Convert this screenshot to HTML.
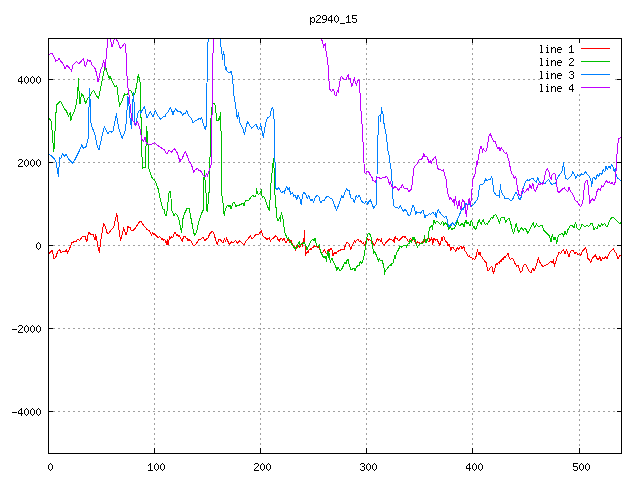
<!DOCTYPE html>
<html><head><meta charset="utf-8"><title>p2940_15</title>
<style>
html,body{margin:0;padding:0;background:#fff;}
body{width:640px;height:480px;overflow:hidden;position:relative;font-family:"Liberation Sans",sans-serif;}
svg{position:absolute;left:0;top:0;}
</style></head><body>
<svg width="640" height="480" viewBox="0 0 640 480">
<rect width="640" height="480" fill="#fff"/>
<g stroke="#a0a0a0" stroke-width="1" stroke-dasharray="2 3" shape-rendering="crispEdges" fill="none"><line x1="48" y1="411.5" x2="621" y2="411.5"/><line x1="48" y1="328.5" x2="621" y2="328.5"/><line x1="48" y1="245.5" x2="621" y2="245.5"/><line x1="48" y1="162.5" x2="621" y2="162.5"/><line x1="48" y1="79.5" x2="540" y2="79.5"/><line x1="615" y1="79.5" x2="621" y2="79.5"/><line x1="154.5" y1="38" x2="154.5" y2="453"/><line x1="260.5" y1="38" x2="260.5" y2="453"/><line x1="366.5" y1="38" x2="366.5" y2="453"/><line x1="472.5" y1="38" x2="472.5" y2="453"/><line x1="579.5" y1="94" x2="579.5" y2="453"/></g>
<clipPath id="c"><rect x="49" y="39" width="572" height="414"/></clipPath>
<g clip-path="url(#c)" fill="none" stroke-width="1" shape-rendering="crispEdges" stroke-linejoin="round">
<polyline stroke="#ff0000" points="48.7,254.0 52.4,250.2 53.8,258.7 55.6,257.8 57.5,252.1 59.4,249.3 61.2,253.1 62.8,251.2 65.0,252.1 66.5,249.3 67.4,253.1 69.3,249.3 71.8,242.8 74.0,241.8 76.2,241.8 77.8,239.0 79.6,240.5 82.4,236.8 84.9,236.2 86.8,241.8 88.6,232.4 90.9,234.3 93.1,234.3 95.0,239.9 95.8,234.3 97.4,243.7 99.3,252.5 101.2,237.1 103.6,224.0 105.5,226.8 106.8,232.4 108.7,233.8 110.6,230.6 113.0,227.8 114.3,225.9 115.2,220.2 116.8,213.7 118.1,222.1 119.4,233.4 120.5,240.5 122.4,233.4 123.7,227.8 125.0,232.4 126.1,235.2 127.4,230.6 128.0,226.0 129.0,227.9 130.0,227.2 131.0,229.8 132.0,230.4 133.0,231.0 134.2,229.1 135.5,227.9 136.8,226.0 138.0,224.1 139.2,222.2 140.5,221.2 141.5,221.6 142.5,224.1 143.5,224.8 144.5,226.6 145.5,227.2 146.5,229.1 147.5,229.1 148.5,230.4 149.5,231.0 150.5,233.2 151.5,235.4 152.5,232.2 153.5,234.1 154.5,233.5 155.5,235.4 156.5,236.0 157.5,237.2 158.5,237.9 159.5,236.6 160.5,237.2 161.5,239.1 162.5,238.5 163.5,240.4 164.5,239.1 165.5,241.6 166.5,244.8 167.2,239.8 168.0,244.8 168.8,241.0 169.5,236.6 170.5,238.5 171.5,237.0 172.5,237.9 173.5,235.4 174.5,232.9 175.5,232.5 176.5,235.4 177.5,234.8 178.5,236.0 179.5,235.4 180.5,238.5 181.5,239.8 182.2,241.6 183.0,238.5 184.0,236.6 185.0,236.0 186.0,237.9 187.0,238.5 188.0,240.4 189.0,239.1 190.0,240.4 191.0,241.0 192.0,242.9 193.0,244.8 194.2,245.8 195.5,244.8 196.8,242.9 198.0,241.0 199.2,239.1 200.5,239.8 201.8,238.5 202.8,237.2 203.8,238.2 204.8,241.0 205.8,239.8 206.8,238.5 208.0,237.9 209.9,233.4 212.4,231.1 214.2,234.3 215.6,239.9 217.1,244.6 218.8,239.0 220.6,239.9 223.1,243.1 224.4,238.1 225.5,241.8 226.6,237.5 228.1,241.8 229.2,244.2 231.5,241.8 233.8,242.4 235.6,240.5 237.5,243.1 239.4,240.9 241.8,242.4 243.7,245.0 245.6,241.8 248.0,239.0 250.2,235.6 252.1,239.0 254.0,236.8 256.2,234.3 258.7,234.9 261.1,230.6 263.0,236.2 265.2,237.5 267.1,239.9 268.0,238.5 269.2,237.9 270.5,241.0 271.8,239.1 273.2,238.5 274.5,237.0 275.8,235.8 277.0,237.2 278.2,239.8 279.2,241.6 280.2,239.1 281.5,238.5 282.8,240.4 284.0,238.5 285.0,241.0 286.0,242.9 287.0,241.0 288.0,239.1 289.0,241.0 290.0,242.9 291.0,240.4 292.0,242.9 293.0,244.8 294.0,246.0 295.0,247.9 295.8,250.4 296.5,246.6 297.5,244.1 298.5,246.0 299.5,247.2 300.5,246.0 301.5,244.5 302.5,246.0 303.5,238.5 304.0,241.0 304.5,230.4 305.0,243.5 305.5,255.4 306.2,252.9 307.2,251.6 308.2,252.9 309.2,249.8 310.2,248.8 311.2,249.5 312.2,247.9 313.2,247.2 314.2,245.4 315.2,246.6 316.2,246.0 317.2,247.2 318.2,246.6 319.2,248.5 320.2,250.4 321.2,252.2 322.2,252.9 323.2,251.6 324.2,249.8 325.2,251.6 326.2,253.5 327.2,252.9 328.2,249.8 329.2,251.6 330.2,249.1 331.2,248.2 332.2,250.4 333.0,256.0 334.0,253.5 335.0,252.5 336.0,254.1 337.0,252.2 338.0,251.6 339.0,249.8 340.0,250.4 341.0,249.5 342.0,250.0 343.0,248.8 344.0,249.5 345.0,246.6 346.0,244.1 347.0,242.2 348.0,242.9 349.0,244.1 349.8,246.0 350.5,249.8 351.5,247.2 352.5,245.4 353.5,242.9 354.5,241.0 355.5,242.2 356.5,240.4 357.5,239.1 358.5,239.8 359.5,241.6 360.5,240.8 361.5,242.2 362.5,243.5 363.5,242.9 364.5,245.4 365.5,242.2 366.5,240.4 367.5,238.5 368.5,240.4 369.5,239.1 370.5,240.4 371.5,239.1 372.5,242.9 373.5,244.1 374.5,245.4 375.5,242.9 376.5,240.4 377.5,238.5 378.5,240.4 379.5,239.5 380.5,241.0 381.5,238.5 382.2,242.9 383.2,244.1 384.2,245.4 385.2,243.5 386.2,242.2 387.2,241.6 388.2,240.4 389.2,238.5 390.2,239.8 391.2,239.1 392.2,240.4 393.2,239.8 394.2,242.2 395.2,236.0 396.2,239.1 397.2,238.5 398.2,240.4 399.2,241.0 400.2,239.1 401.2,238.5 402.2,237.2 403.2,236.2 404.2,237.2 405.2,236.6 406.2,238.2 407.2,239.1 408.2,241.0 409.2,241.6 410.2,237.9 411.2,239.1 412.2,240.4 413.2,238.5 414.2,239.8 415.2,242.9 416.2,244.1 417.2,241.0 418.2,242.9 419.2,242.2 420.2,244.1 421.2,242.9 422.2,241.6 423.2,242.9 424.2,239.8 425.2,242.2 426.2,240.4 427.2,238.5 428.0,241.0 429.0,242.2 429.8,238.5 430.8,240.4 431.8,237.9 432.8,244.1 433.8,238.5 434.8,239.1 435.8,240.4 436.8,239.1 437.8,241.0 438.8,242.9 439.8,245.4 440.8,242.2 441.8,237.9 442.5,241.0 443.2,236.0 444.2,237.2 445.2,240.4 446.2,241.6 447.2,242.9 448.0,245.4 449.0,244.1 450.0,247.2 450.8,250.4 451.8,247.9 452.8,247.2 453.8,248.8 454.8,249.8 455.8,251.2 456.8,248.8 457.8,247.9 458.8,249.8 459.8,247.2 460.8,246.0 461.8,248.8 462.8,247.9 463.8,246.0 464.5,250.4 465.5,251.6 466.5,252.9 467.5,254.8 468.5,256.6 469.5,256.0 470.5,257.9 471.5,257.2 472.5,259.1 473.5,258.5 474.5,259.5 475.5,257.9 476.2,256.0 477.0,252.2 477.5,249.1 478.2,253.5 479.0,254.8 479.8,252.2 480.5,253.5 481.2,256.6 482.2,257.2 483.2,259.1 484.2,260.4 485.2,261.6 486.2,262.9 487.0,267.2 487.8,271.0 488.8,270.4 489.8,268.5 490.8,267.2 491.8,266.0 492.5,268.5 493.2,273.5 494.2,271.0 495.2,267.2 496.2,263.5 497.2,264.8 498.2,262.2 499.2,263.5 500.2,260.4 501.2,261.6 502.2,258.5 503.2,259.8 504.2,256.6 505.2,257.9 506.2,256.0 507.2,254.8 508.0,253.5 509.0,256.8 510.5,259.6 512.0,257.8 513.5,259.6 515.0,263.4 516.5,266.2 518.0,265.2 519.5,269.0 520.6,272.4 522.1,270.9 523.2,266.2 524.0,265.2 525.6,264.3 527.5,268.1 529.4,271.8 531.2,272.8 532.8,268.1 534.2,270.9 535.8,267.1 537.2,262.4 538.4,257.8 539.9,262.4 541.4,264.3 542.9,267.1 544.8,265.6 546.6,264.9 548.5,263.4 550.4,261.5 552.2,262.4 553.4,260.0 554.5,266.2 556.0,260.6 557.5,255.9 559.0,252.5 560.5,253.6 562.0,251.2 563.5,249.9 565.0,253.6 566.5,249.3 568.0,254.0 569.1,256.8 570.6,251.2 572.1,249.9 573.6,251.2 575.1,253.6 576.6,252.1 578.1,254.9 579.6,253.6 580.8,255.9 582.2,251.2 583.8,249.9 585.6,248.0 586.8,252.1 587.9,258.7 589.4,259.6 590.9,262.4 592.4,257.8 593.9,256.8 595.4,254.9 596.9,258.7 598.4,259.6 599.9,256.8 601.0,260.6 602.5,257.8 604.0,258.7 605.5,256.8 607.0,258.7 608.5,254.9 610.0,252.1 611.9,250.2 613.4,248.4 614.9,252.1 616.4,253.6 617.9,258.7 619.4,255.9 622.2,254.9"/>
<polyline stroke="#00c000" points="48.7,118.4 50.0,119.3 51.5,122.1 52.4,135.2 53.8,152.1 54.9,135.2 55.2,124.0 55.6,116.5 56.8,104.9 60.5,101.1 62.8,105.2 64.6,109.0 66.5,110.9 68.4,116.5 70.2,112.8 70.8,120.6 72.1,115.6 74.9,109.9 76.8,101.5 77.8,90.2 78.5,78.6 79.2,95.9 80.0,104.3 81.5,94.0 83.4,95.9 85.6,103.4 88.1,97.8 89.9,95.9 91.8,92.1 93.7,90.2 96.1,94.9 98.4,98.7 100.2,90.2 102.1,80.9 104.0,71.5 104.9,62.1 106.2,69.6 107.8,74.3 109.2,79.0 110.0,76.2 112.4,81.8 114.9,86.5 116.8,85.6 118.1,95.9 119.6,106.2 121.8,101.5 124.6,94.0 127.4,94.9 128.8,90.2 131.2,91.2 133.1,95.9 134.9,94.0 136.8,84.6 138.3,74.3 140.0,81.8 140.8,101.5 141.1,124.0 141.5,142.8 142.4,168.1 145.2,167.5 146.0,146.5 146.8,126.8 147.5,139.0 148.2,146.5 148.6,168.1 150.9,174.6 152.4,178.4 154.6,180.2 156.5,184.0 157.0,186.0 158.0,188.5 159.0,192.9 160.0,197.9 161.0,202.2 162.0,206.0 163.0,209.1 164.2,209.8 165.2,214.8 166.2,215.4 167.0,211.0 167.8,204.8 168.5,194.8 169.5,191.2 170.5,191.6 171.2,201.0 171.8,211.0 173.0,212.9 174.2,216.0 175.2,213.5 176.5,214.1 177.5,216.6 178.5,217.2 179.5,222.2 180.5,227.2 181.5,232.2 182.2,226.0 183.0,218.5 184.0,214.8 184.8,212.9 185.8,211.0 186.8,208.5 188.0,208.2 189.2,208.8 190.0,212.9 191.0,218.5 192.0,223.5 193.0,229.1 194.0,233.5 194.8,235.4 195.8,234.1 196.8,231.0 197.8,226.0 198.8,222.2 199.8,218.5 200.8,215.4 201.8,212.9 202.8,211.0 203.5,209.8 203.6,191.2 204.2,170.0 204.9,177.5 205.5,191.2 206.2,193.8 206.9,211.0 207.9,211.2 208.2,193.1 209.1,192.5 209.6,171.2 210.2,150.0 210.5,128.0 211.2,114.9 211.8,108.0 213.0,103.2 214.5,103.6 215.5,106.8 216.1,114.2 217.0,120.5 218.6,120.5 219.2,116.8 220.2,120.5 220.5,112.4 220.8,130.5 221.5,131.8 221.6,148.0 221.6,150.0 221.9,172.5 222.0,196.0 222.8,201.0 223.5,208.5 224.2,215.4 225.0,211.0 226.0,207.9 227.0,206.0 228.0,205.0 229.0,206.6 230.0,205.4 231.0,209.1 232.0,206.0 233.0,202.9 234.0,202.2 235.0,204.1 236.0,207.2 237.0,204.8 238.0,205.4 239.0,206.2 240.0,204.1 241.0,204.8 242.0,202.9 243.0,203.5 244.0,206.0 245.0,202.2 246.0,199.8 247.0,201.0 248.0,199.8 249.0,200.4 250.0,198.5 251.0,197.2 252.0,196.0 253.0,194.8 254.0,196.6 255.0,197.2 256.0,194.8 256.2,188.7 258.1,194.3 260.0,193.4 261.5,189.6 261.8,195.4 262.8,197.2 263.8,196.6 264.8,198.5 265.8,201.0 266.8,204.8 267.8,207.2 268.8,209.1 269.2,210.4 269.8,203.5 270.2,196.0 270.9,184.0 272.0,172.8 273.5,158.7 274.2,170.9 275.0,195.2 275.5,196.0 275.8,203.5 276.2,211.0 276.8,217.2 277.5,219.1 278.2,221.0 279.0,219.1 279.8,217.9 280.5,221.6 281.2,212.2 282.0,214.8 282.8,217.9 283.5,222.9 284.2,228.5 285.0,232.9 286.0,235.4 287.0,237.9 288.0,239.1 288.8,237.9 289.5,241.0 290.5,242.2 291.5,243.5 292.5,245.4 293.5,246.6 294.5,248.5 295.5,249.8 296.2,246.0 297.2,247.2 298.2,243.5 299.2,241.6 300.2,245.4 301.2,243.5 302.2,242.9 303.2,244.1 304.2,242.2 305.2,244.8 306.2,246.0 307.0,250.4 308.0,247.2 309.0,244.8 310.0,242.9 311.0,241.0 312.0,239.8 313.0,239.5 314.0,241.0 315.0,238.5 315.8,241.6 316.5,245.4 317.5,246.6 318.5,245.4 319.2,244.8 320.0,249.1 320.8,252.2 321.8,254.1 322.8,256.0 323.8,257.9 324.8,256.0 325.8,258.5 326.5,261.2 327.2,253.5 328.0,251.0 328.8,257.2 329.5,253.5 330.2,262.9 331.2,259.1 332.2,258.5 333.2,261.6 334.2,263.5 335.2,265.4 336.2,267.9 337.0,270.4 338.0,267.2 339.0,269.1 340.0,271.0 341.0,269.8 342.0,268.5 343.0,266.6 344.0,264.1 345.0,262.2 346.0,264.1 347.0,260.4 348.0,259.1 348.8,263.5 349.8,266.6 350.8,269.1 351.8,269.8 353.0,267.9 354.2,268.5 355.2,271.0 356.2,267.2 357.2,266.6 358.2,265.4 359.2,266.0 360.2,261.0 361.2,263.5 362.2,262.2 363.2,259.1 364.2,255.4 365.0,250.4 365.8,246.0 366.5,240.4 367.2,236.0 368.0,234.1 369.0,233.5 370.0,234.8 370.8,234.8 371.2,239.1 372.0,243.5 372.8,247.2 373.5,253.5 374.5,251.6 375.5,252.9 376.5,256.0 377.5,258.5 378.5,261.6 379.2,258.5 380.2,260.4 381.2,261.0 382.0,259.8 382.8,262.9 383.5,264.8 384.2,269.8 384.8,274.1 385.2,271.0 386.2,269.8 387.2,268.5 388.2,267.2 389.2,266.0 390.2,264.8 391.2,265.4 392.0,263.5 393.0,262.9 393.8,259.8 394.5,256.0 395.2,259.1 396.0,254.8 396.8,252.2 397.8,251.0 398.8,249.1 399.8,246.6 400.8,246.0 401.8,247.2 402.8,246.0 403.8,245.4 404.8,245.8 405.8,245.4 406.5,247.2 407.2,244.8 408.2,243.5 409.2,244.1 410.0,239.8 410.8,241.6 411.5,242.9 412.2,238.5 413.0,237.5 413.8,239.8 414.8,237.9 415.5,241.0 416.5,244.1 417.5,247.2 418.2,245.4 419.2,244.8 420.2,243.5 421.2,242.9 422.2,244.1 423.2,241.0 424.0,239.1 424.5,235.4 425.2,241.0 426.0,242.9 426.8,239.1 427.5,240.4 428.0,239.1 428.8,235.0 429.2,228.1 430.2,227.2 431.2,226.2 432.2,225.6 432.8,230.0 433.2,221.2 434.5,220.6 435.2,223.8 436.2,221.9 437.5,221.2 438.5,222.5 439.8,223.8 440.8,224.8 441.8,222.5 442.8,221.2 443.8,225.2 444.8,223.8 445.8,222.5 446.8,224.0 447.8,226.2 448.8,230.0 449.8,226.5 450.8,227.5 451.8,229.4 453.0,228.8 454.2,229.0 455.2,226.9 456.2,225.0 457.0,220.6 458.0,222.5 459.0,225.0 460.0,226.2 461.0,224.4 462.0,223.5 463.0,224.4 464.0,226.9 465.0,222.5 466.0,220.0 467.0,223.8 468.0,222.5 469.0,223.8 470.0,225.6 471.0,221.2 471.8,220.6 472.5,225.0 473.5,227.5 474.5,226.9 475.5,230.0 476.5,227.5 477.5,223.8 478.5,221.2 479.5,220.0 480.5,223.1 481.5,224.4 482.5,220.6 483.5,220.0 484.5,223.1 485.5,224.4 486.5,223.1 487.5,224.0 488.5,222.5 489.5,220.6 490.5,218.8 491.5,217.2 492.5,218.8 493.5,216.2 494.5,215.2 495.5,214.4 496.5,216.2 497.5,217.5 498.5,220.6 499.5,223.1 500.5,218.8 501.5,217.5 502.8,217.8 504.0,216.9 505.6,222.1 507.5,219.3 509.4,218.4 510.9,224.0 512.4,230.6 513.7,233.8 515.0,227.8 516.1,223.6 517.6,229.6 518.8,232.4 520.2,229.6 521.8,227.8 523.2,230.6 524.0,228.7 525.6,228.7 527.9,233.4 529.8,229.6 531.6,225.9 533.1,222.5 534.6,227.8 536.5,224.0 538.4,226.8 540.2,225.9 542.1,225.5 544.0,230.6 545.9,232.4 547.8,234.3 549.6,236.2 551.1,241.8 552.2,234.3 553.8,239.9 555.2,237.1 556.8,243.1 558.4,235.2 560.3,234.3 562.2,233.0 563.5,236.2 565.0,231.5 566.5,234.3 568.0,229.6 569.5,226.8 571.0,224.9 572.5,225.9 574.0,227.8 575.5,222.5 577.0,227.8 578.9,229.6 580.4,228.7 581.9,224.0 583.8,225.9 585.6,226.8 587.1,224.9 588.6,226.8 590.5,224.0 592.4,223.1 593.9,229.6 595.4,227.8 596.9,228.7 598.4,224.9 599.9,226.8 601.4,224.0 602.9,225.5 604.4,223.1 605.9,225.9 607.4,226.8 608.9,222.1 610.4,219.3 611.9,217.4 613.8,218.0 615.6,219.3 617.5,221.8 619.4,223.6 622.2,222.1"/>
<polyline stroke="#0080ff" points="48.7,154.0 51.5,155.9 54.3,158.7 56.2,162.4 57.5,170.9 58.6,176.5 59.4,157.8 60.9,158.7 62.8,153.1 64.2,156.8 66.1,154.0 68.4,158.7 70.2,160.6 72.5,163.4 74.9,159.6 77.8,154.0 80.0,149.3 81.9,144.6 83.4,148.4 86.2,146.5 88.1,139.0 88.6,127.8 89.4,88.4 90.5,107.1 90.9,122.1 91.2,124.9 93.1,129.6 95.0,135.2 97.4,146.5 98.9,150.2 100.2,144.6 102.1,135.2 104.4,126.8 106.8,131.5 108.0,134.0 109.9,130.9 111.5,132.1 113.0,131.5 114.2,125.2 115.5,118.4 116.5,114.0 117.4,121.5 118.6,127.1 119.9,132.1 121.1,135.2 122.4,138.4 123.6,134.6 124.9,132.1 125.8,126.5 126.8,114.0 127.4,102.8 128.0,96.5 128.6,100.2 129.2,109.0 130.2,120.2 131.5,128.4 132.0,119.0 132.8,102.8 133.4,92.1 134.0,101.5 134.5,106.5 134.8,120.2 135.2,125.2 136.1,122.8 137.0,117.8 138.0,112.8 139.0,110.9 139.9,110.2 140.8,114.0 141.8,110.9 143.0,109.0 144.5,106.5 145.5,112.1 146.8,117.8 148.0,116.2 149.2,113.4 150.5,111.8 151.8,114.6 153.2,117.1 154.5,112.1 155.5,110.5 156.8,114.0 158.0,116.2 159.2,117.1 160.5,119.2 162.0,117.8 163.6,116.2 164.9,116.8 166.1,114.0 167.8,112.1 169.2,109.6 170.5,107.5 171.8,110.9 173.0,114.6 174.2,110.9 175.8,108.8 177.4,110.9 179.0,112.1 180.5,111.8 181.8,113.4 182.8,115.9 184.0,113.0 185.2,113.8 186.8,110.9 188.0,114.2 189.2,116.1 190.8,117.4 192.0,119.9 193.2,123.0 194.5,121.1 196.1,120.5 197.8,119.5 199.5,118.2 200.5,119.2 201.5,118.0 202.4,119.9 203.2,123.6 204.2,126.8 205.2,129.2 206.1,126.1 206.6,123.0 206.8,84.2 207.0,84.1 207.4,42.8 208.0,41.8 208.6,38.0 208.9,33.0 219.9,33.0 220.2,38.0 220.8,45.5 221.5,49.2 222.0,54.2 222.5,59.9 223.4,51.1 224.2,54.9 224.6,63.0 225.5,69.2 226.1,67.4 227.0,70.8 228.6,72.8 230.2,73.0 231.2,71.1 232.0,74.9 232.8,75.5 233.0,84.2 233.8,85.5 234.0,95.5 234.2,98.0 235.2,103.0 236.1,109.2 236.8,116.8 237.8,118.6 238.2,112.4 239.0,116.8 239.9,122.4 241.1,125.5 242.4,127.4 243.6,131.1 244.5,134.2 245.5,129.2 246.5,124.9 247.8,121.5 249.0,123.6 250.2,126.1 251.8,128.2 253.2,126.8 254.9,124.9 256.1,124.2 257.4,127.4 258.6,129.9 259.9,128.0 260.5,123.6 261.5,128.0 262.5,133.0 263.4,137.4 264.2,131.8 265.2,125.5 266.5,119.9 268.0,117.4 268.1,117.4 269.9,116.5 271.2,109.9 272.4,107.1 273.7,110.9 274.2,124.0 274.6,124.0 275.0,161.5 275.6,187.8 276.9,189.6 278.8,187.8 281.2,192.4 284.0,191.5 284.0,194.3 285.5,188.7 286.8,186.8 288.1,189.6 289.2,187.8 290.6,194.3 292.4,192.4 293.8,196.2 295.2,195.2 296.8,199.9 298.1,195.2 299.9,199.0 301.2,204.2 302.4,196.2 303.7,192.4 305.6,194.3 307.4,199.0 308.8,195.2 310.6,200.9 312.1,199.0 313.6,202.4 314.9,198.1 316.8,195.2 318.7,196.2 320.6,202.8 322.4,200.9 324.3,200.5 326.2,197.1 328.1,196.2 329.9,198.1 331.8,198.1 333.7,202.8 335.0,206.5 336.5,210.2 338.4,205.6 340.2,200.9 341.8,195.2 343.1,198.1 344.9,192.4 346.8,188.7 348.0,191.1 349.2,190.2 349.9,194.2 351.1,198.0 352.8,198.6 354.2,203.0 355.2,199.2 356.2,195.5 357.4,198.0 358.6,196.1 359.5,195.2 360.5,198.6 361.5,201.1 363.0,202.4 364.5,203.6 365.8,201.8 366.8,201.1 367.8,204.9 368.8,201.8 370.2,199.9 371.1,201.8 372.4,204.9 373.6,208.0 374.9,206.1 376.1,205.2 376.8,195.5 377.0,176.8 377.2,158.0 377.4,148.0 377.5,135.5 378.2,134.9 378.4,118.0 379.2,115.5 379.9,114.9 380.2,116.8 380.5,121.1 380.8,114.2 381.2,113.6 381.5,107.4 382.0,110.5 382.5,113.6 383.5,114.2 384.0,123.6 384.8,124.2 385.2,133.0 386.0,133.6 386.5,141.1 387.0,141.8 387.2,149.2 388.2,151.8 389.0,154.9 389.2,158.0 389.8,163.0 390.8,163.6 391.2,173.6 391.8,174.2 392.2,187.4 392.5,198.0 393.2,199.2 393.8,206.1 395.5,207.4 397.0,207.0 398.6,208.6 400.2,205.5 401.1,207.4 402.4,209.9 403.6,211.1 404.9,209.2 406.1,210.5 407.4,213.0 408.6,215.8 409.9,215.2 411.1,211.8 412.0,208.0 413.0,205.5 414.0,206.8 414.9,210.5 415.8,214.9 416.5,211.8 417.8,213.0 419.0,212.0 420.5,213.0 422.0,211.1 423.0,210.5 424.0,213.8 425.0,217.5 426.0,215.0 427.1,216.2 428.4,214.4 429.6,213.8 430.9,214.4 432.1,213.1 433.4,212.5 434.6,215.0 435.5,212.8 436.2,218.1 437.2,211.9 438.4,210.0 439.6,211.9 440.9,213.8 442.1,215.0 443.4,216.2 444.6,217.5 445.9,216.2 446.8,218.1 447.5,222.5 448.4,225.0 449.2,226.9 450.2,224.4 451.2,225.6 452.2,222.5 453.2,223.8 454.2,225.6 455.2,223.8 456.2,221.9 457.2,220.0 458.2,217.5 459.2,215.6 460.2,213.1 461.2,210.0 462.2,208.1 463.2,210.0 464.2,206.9 465.2,204.4 466.2,203.1 467.2,205.0 468.2,204.4 469.2,203.8 470.2,205.0 471.2,206.2 472.5,205.6 473.5,204.4 474.5,203.1 475.5,201.9 476.5,200.6 477.5,199.4 478.2,196.2 478.8,192.5 479.2,187.5 479.8,185.0 480.9,184.4 482.1,185.2 483.4,183.8 484.2,182.5 485.2,180.0 485.6,178.4 486.9,181.2 488.4,179.3 490.2,179.3 491.8,176.5 492.5,180.0 493.0,185.0 493.5,191.2 494.6,193.1 495.9,194.8 497.5,195.6 499.0,195.2 499.8,197.5 500.2,184.4 500.8,188.8 501.5,192.5 502.8,194.4 504.0,196.2 505.2,199.0 507.1,198.1 509.0,199.0 510.9,200.9 512.8,199.0 514.6,194.3 516.1,191.9 517.6,195.2 518.8,198.1 520.2,199.9 521.8,195.2 522.9,188.7 524.1,185.9 525.6,181.2 527.5,179.9 529.4,180.2 531.2,178.8 533.1,178.4 535.0,181.2 536.5,182.1 537.8,177.4 539.1,181.2 541.0,184.0 542.9,182.1 544.8,184.0 546.6,181.2 548.5,179.3 550.4,183.1 552.2,184.9 554.1,183.1 555.6,184.0 557.1,178.4 559.0,175.6 560.9,173.1 562.4,169.9 563.5,162.4 564.6,172.8 565.9,178.4 567.8,179.3 569.7,177.4 571.6,175.6 572.9,171.8 574.4,174.6 575.9,178.4 577.8,174.6 579.6,176.5 581.5,173.7 583.4,174.6 585.6,171.8 587.5,174.6 589.4,176.5 590.9,180.2 591.6,186.8 592.8,178.4 594.2,177.4 595.8,179.3 597.2,174.6 598.8,176.5 600.2,173.1 601.8,174.2 603.2,169.9 604.8,171.8 605.9,166.2 607.4,169.9 608.9,166.2 610.4,169.0 611.5,164.3 613.0,167.1 614.1,171.8 615.2,168.1 616.4,176.5 617.9,178.4 619.4,179.3 622.2,182.1"/>
<polyline stroke="#c000ff" points="48.7,54.6 49.2,54.9 50.8,53.6 52.4,54.0 54.0,56.8 55.8,61.1 57.4,60.5 59.0,58.6 60.5,61.1 62.0,62.4 63.6,64.9 64.9,68.6 66.5,65.8 68.0,66.1 69.5,68.0 71.5,71.1 73.0,64.9 74.5,63.6 76.5,61.8 78.6,63.6 80.2,62.4 81.8,60.5 83.2,58.6 84.2,61.8 85.2,66.8 86.8,63.0 87.8,59.9 89.2,61.1 90.5,60.5 92.0,64.9 93.6,66.8 95.2,68.6 96.8,74.2 98.0,82.4 99.2,76.8 100.5,70.5 102.0,66.8 103.6,60.5 104.5,63.0 105.5,69.9 106.2,55.5 107.0,48.0 107.8,39.2 108.2,33.0 110.1,33.0 110.5,39.2 112.0,47.4 113.2,43.6 114.2,39.2 114.8,35.5 115.8,35.5 116.1,39.2 118.0,41.8 120.5,49.0 123.0,45.5 124.9,43.2 125.8,49.2 126.5,60.5 127.0,75.5 127.4,84.0 128.0,87.8 128.6,91.5 129.2,97.1 129.9,102.8 130.5,109.0 131.2,115.2 132.0,118.4 133.0,120.9 134.0,122.1 135.5,125.9 137.4,121.5 138.6,124.6 139.9,128.4 140.8,134.0 141.5,138.4 142.4,140.2 143.6,141.2 145.2,137.1 146.1,142.1 146.8,144.0 147.1,143.7 149.9,144.6 152.8,143.7 154.6,142.8 156.5,144.6 159.3,146.5 162.1,148.4 164.0,149.3 166.8,154.0 169.2,150.2 171.5,152.1 174.3,148.4 175.5,150.0 177.0,152.5 178.6,156.9 179.9,161.9 181.1,159.4 182.4,158.8 183.6,154.4 185.2,151.5 186.8,155.0 188.0,158.1 189.5,161.9 190.8,163.1 192.4,167.5 193.6,172.2 194.9,170.0 197.4,168.5 199.2,170.6 201.1,171.2 202.8,174.4 204.2,176.5 205.5,176.2 206.5,173.1 207.4,176.2 208.6,171.9 209.9,168.8 211.1,164.4 211.4,157.5 211.5,150.0 211.6,135.5 211.6,115.5 212.4,114.2 212.5,105.5 212.6,75.5 212.6,53.2 213.6,52.8 213.7,38.0 213.8,33.0 214.1,26.5 320.5,33.0 321.1,38.0 322.0,40.5 322.8,43.0 323.6,47.4 324.5,44.9 325.2,43.6 325.8,49.9 326.8,56.8 327.5,58.0 328.0,64.9 328.5,66.1 328.8,80.5 329.5,81.8 329.9,89.2 330.8,91.1 332.0,91.1 333.2,89.2 334.2,91.8 335.2,95.5 336.2,96.1 337.0,91.8 338.0,89.9 338.5,92.4 339.2,85.5 339.9,81.1 340.8,77.4 341.5,76.1 342.4,77.8 343.6,79.0 345.2,79.5 346.2,79.9 347.0,76.8 348.2,74.5 349.0,78.6 349.9,78.0 350.8,81.8 351.8,86.1 352.8,84.2 353.6,80.5 354.5,77.4 355.2,81.8 356.5,85.2 357.4,81.1 358.6,79.9 359.5,81.1 359.8,91.8 360.1,93.0 360.2,98.0 360.5,110.5 361.2,111.1 361.5,123.6 362.5,124.2 362.8,141.8 363.5,142.4 363.6,156.8 363.8,158.0 364.0,163.0 364.2,171.8 365.5,173.6 366.8,171.8 368.0,171.1 369.2,172.8 370.5,175.5 371.8,176.8 373.0,180.5 374.2,181.1 375.5,182.4 376.5,178.0 378.0,177.4 379.2,177.8 380.5,179.0 382.0,178.0 383.6,177.8 385.2,177.4 386.5,176.1 387.8,178.0 388.6,181.1 389.5,184.9 390.2,181.1 391.1,184.2 392.4,187.4 393.2,188.2 394.9,186.5 396.1,187.4 397.4,188.6 398.6,190.2 399.9,188.0 401.1,187.4 402.4,184.0 403.2,186.8 404.0,188.1 405.9,188.1 407.5,188.5 408.8,191.9 410.0,190.6 411.2,189.4 412.0,185.0 412.8,177.5 413.5,171.2 414.2,166.9 415.5,165.6 416.5,164.4 417.5,163.8 418.5,160.6 420.0,159.4 421.5,159.0 422.8,158.5 423.4,153.1 424.2,155.0 425.2,156.9 426.5,156.2 427.5,158.1 428.4,160.6 429.2,163.1 430.2,160.0 431.2,163.8 432.2,160.6 433.5,158.8 434.6,157.5 435.5,156.2 436.2,160.0 436.8,163.8 437.5,168.1 438.8,169.4 440.2,169.4 441.5,170.6 443.4,169.8 444.2,173.1 445.2,176.2 446.2,180.0 446.5,180.0 447.0,187.5 447.8,193.8 448.8,195.6 449.5,200.0 450.5,197.5 451.5,198.8 452.5,201.9 453.5,200.0 454.5,205.6 455.2,196.2 456.0,200.6 456.8,203.8 457.5,208.1 458.4,204.4 459.2,200.6 460.2,206.9 461.0,209.4 461.8,203.8 462.5,199.4 463.4,200.6 464.2,201.9 465.0,205.0 465.5,210.0 466.2,216.2 467.0,210.0 467.8,205.0 468.5,201.2 469.2,198.1 470.0,203.1 470.5,206.9 471.2,198.8 471.8,189.4 472.5,187.5 472.8,180.0 474.0,176.5 475.2,174.0 475.9,167.8 476.5,161.5 477.1,165.2 478.0,160.2 478.8,155.9 479.5,150.2 480.5,147.1 481.5,146.5 482.5,152.1 483.4,148.4 484.2,150.2 485.5,151.8 486.8,150.0 487.5,144.0 488.4,140.2 489.0,135.9 490.2,133.4 491.2,135.9 492.5,139.0 493.5,141.5 495.0,140.9 495.9,144.0 497.1,147.1 498.0,149.0 499.0,147.1 500.0,150.9 501.2,147.1 502.5,149.6 504.0,151.8 505.5,153.8 506.5,152.8 507.5,155.9 508.4,159.0 509.2,161.5 510.0,166.5 510.9,170.9 512.1,174.0 513.4,175.9 514.2,179.0 515.2,176.5 516.2,178.4 516.5,184.0 517.4,185.9 518.4,193.4 519.9,196.2 521.4,194.3 522.5,188.7 524.1,192.4 525.6,191.5 527.1,188.7 528.4,190.6 529.8,184.9 531.2,188.7 532.8,183.1 534.2,189.6 535.4,191.9 536.9,187.8 538.4,183.6 539.9,184.9 541.4,183.1 542.9,184.4 544.4,178.4 545.9,170.9 547.4,168.6 548.9,171.8 550.0,177.4 551.1,179.3 552.2,174.2 553.8,173.7 554.9,173.1 556.0,180.2 557.1,187.8 558.4,193.0 560.3,191.5 562.2,189.2 564.1,187.8 565.9,190.0 567.8,191.5 569.1,186.8 570.6,191.9 572.1,193.0 573.6,196.2 575.3,200.5 577.2,201.8 579.1,204.6 580.4,206.5 581.9,205.0 583.4,198.1 584.5,184.0 585.6,181.2 587.1,179.9 588.2,185.9 589.0,195.2 589.8,203.7 590.9,200.5 592.4,199.0 594.1,200.5 595.8,197.1 597.2,190.6 598.8,188.7 600.2,190.6 601.8,185.9 603.2,186.8 604.8,183.6 606.2,180.2 607.8,182.5 609.2,181.8 610.8,183.6 612.2,182.5 613.8,184.9 615.2,182.1 616.0,170.9 616.8,157.8 617.5,146.5 618.6,139.0 620.1,138.1 622.2,137.1"/>
</g>
<g stroke="#000" stroke-width="1" fill="none" shape-rendering="crispEdges"><rect x="48.5" y="38.5" width="573" height="415"/><line x1="48" y1="411.5" x2="53" y2="411.5"/><line x1="617" y1="411.5" x2="622" y2="411.5"/><line x1="48" y1="328.5" x2="53" y2="328.5"/><line x1="617" y1="328.5" x2="622" y2="328.5"/><line x1="48" y1="245.5" x2="53" y2="245.5"/><line x1="617" y1="245.5" x2="622" y2="245.5"/><line x1="48" y1="162.5" x2="53" y2="162.5"/><line x1="617" y1="162.5" x2="622" y2="162.5"/><line x1="48" y1="79.5" x2="53" y2="79.5"/><line x1="617" y1="79.5" x2="622" y2="79.5"/><line x1="48.5" y1="453" x2="48.5" y2="448"/><line x1="48.5" y1="38" x2="48.5" y2="43"/><line x1="154.5" y1="453" x2="154.5" y2="448"/><line x1="154.5" y1="38" x2="154.5" y2="43"/><line x1="260.5" y1="453" x2="260.5" y2="448"/><line x1="260.5" y1="38" x2="260.5" y2="43"/><line x1="366.5" y1="453" x2="366.5" y2="448"/><line x1="366.5" y1="38" x2="366.5" y2="43"/><line x1="472.5" y1="453" x2="472.5" y2="448"/><line x1="472.5" y1="38" x2="472.5" y2="43"/><line x1="579.5" y1="453" x2="579.5" y2="448"/><line x1="579.5" y1="38" x2="579.5" y2="43"/></g>
<line x1="581" y1="48.5" x2="610" y2="48.5" stroke="#ff0000" stroke-width="1" shape-rendering="crispEdges"/><line x1="581" y1="61.5" x2="610" y2="61.5" stroke="#00c000" stroke-width="1" shape-rendering="crispEdges"/><line x1="581" y1="74.5" x2="610" y2="74.5" stroke="#0080ff" stroke-width="1" shape-rendering="crispEdges"/><line x1="581" y1="87.5" x2="610" y2="87.5" stroke="#c000ff" stroke-width="1" shape-rendering="crispEdges"/>
<path fill="#000" shape-rendering="crispEdges" d="M12 412h5v1h-5zM21 408h1v1h-1zM20 409h2v1h-2zM19 410h1v1h-1zM21 410h1v1h-1zM18 411h1v1h-1zM21 411h1v1h-1zM18 412h1v1h-1zM21 412h1v1h-1zM18 413h5v1h-5zM21 414h1v1h-1zM21 415h1v1h-1zM26 408h1v1h-1zM25 409h1v1h-1zM27 409h1v1h-1zM24 410h1v1h-1zM28 410h1v1h-1zM24 411h1v1h-1zM28 411h1v1h-1zM24 412h1v1h-1zM28 412h1v1h-1zM24 413h1v1h-1zM28 413h1v1h-1zM25 414h1v1h-1zM27 414h1v1h-1zM26 415h1v1h-1zM32 408h1v1h-1zM31 409h1v1h-1zM33 409h1v1h-1zM30 410h1v1h-1zM34 410h1v1h-1zM30 411h1v1h-1zM34 411h1v1h-1zM30 412h1v1h-1zM34 412h1v1h-1zM30 413h1v1h-1zM34 413h1v1h-1zM31 414h1v1h-1zM33 414h1v1h-1zM32 415h1v1h-1zM38 408h1v1h-1zM37 409h1v1h-1zM39 409h1v1h-1zM36 410h1v1h-1zM40 410h1v1h-1zM36 411h1v1h-1zM40 411h1v1h-1zM36 412h1v1h-1zM40 412h1v1h-1zM36 413h1v1h-1zM40 413h1v1h-1zM37 414h1v1h-1zM39 414h1v1h-1zM38 415h1v1h-1zM12 329h5v1h-5zM19 325h3v1h-3zM18 326h1v1h-1zM22 326h1v1h-1zM22 327h1v1h-1zM21 328h1v1h-1zM20 329h1v1h-1zM19 330h1v1h-1zM18 331h1v1h-1zM18 332h5v1h-5zM26 325h1v1h-1zM25 326h1v1h-1zM27 326h1v1h-1zM24 327h1v1h-1zM28 327h1v1h-1zM24 328h1v1h-1zM28 328h1v1h-1zM24 329h1v1h-1zM28 329h1v1h-1zM24 330h1v1h-1zM28 330h1v1h-1zM25 331h1v1h-1zM27 331h1v1h-1zM26 332h1v1h-1zM32 325h1v1h-1zM31 326h1v1h-1zM33 326h1v1h-1zM30 327h1v1h-1zM34 327h1v1h-1zM30 328h1v1h-1zM34 328h1v1h-1zM30 329h1v1h-1zM34 329h1v1h-1zM30 330h1v1h-1zM34 330h1v1h-1zM31 331h1v1h-1zM33 331h1v1h-1zM32 332h1v1h-1zM38 325h1v1h-1zM37 326h1v1h-1zM39 326h1v1h-1zM36 327h1v1h-1zM40 327h1v1h-1zM36 328h1v1h-1zM40 328h1v1h-1zM36 329h1v1h-1zM40 329h1v1h-1zM36 330h1v1h-1zM40 330h1v1h-1zM37 331h1v1h-1zM39 331h1v1h-1zM38 332h1v1h-1zM38 242h1v1h-1zM37 243h1v1h-1zM39 243h1v1h-1zM36 244h1v1h-1zM40 244h1v1h-1zM36 245h1v1h-1zM40 245h1v1h-1zM36 246h1v1h-1zM40 246h1v1h-1zM36 247h1v1h-1zM40 247h1v1h-1zM37 248h1v1h-1zM39 248h1v1h-1zM38 249h1v1h-1zM19 159h3v1h-3zM18 160h1v1h-1zM22 160h1v1h-1zM22 161h1v1h-1zM21 162h1v1h-1zM20 163h1v1h-1zM19 164h1v1h-1zM18 165h1v1h-1zM18 166h5v1h-5zM26 159h1v1h-1zM25 160h1v1h-1zM27 160h1v1h-1zM24 161h1v1h-1zM28 161h1v1h-1zM24 162h1v1h-1zM28 162h1v1h-1zM24 163h1v1h-1zM28 163h1v1h-1zM24 164h1v1h-1zM28 164h1v1h-1zM25 165h1v1h-1zM27 165h1v1h-1zM26 166h1v1h-1zM32 159h1v1h-1zM31 160h1v1h-1zM33 160h1v1h-1zM30 161h1v1h-1zM34 161h1v1h-1zM30 162h1v1h-1zM34 162h1v1h-1zM30 163h1v1h-1zM34 163h1v1h-1zM30 164h1v1h-1zM34 164h1v1h-1zM31 165h1v1h-1zM33 165h1v1h-1zM32 166h1v1h-1zM38 159h1v1h-1zM37 160h1v1h-1zM39 160h1v1h-1zM36 161h1v1h-1zM40 161h1v1h-1zM36 162h1v1h-1zM40 162h1v1h-1zM36 163h1v1h-1zM40 163h1v1h-1zM36 164h1v1h-1zM40 164h1v1h-1zM37 165h1v1h-1zM39 165h1v1h-1zM38 166h1v1h-1zM21 76h1v1h-1zM20 77h2v1h-2zM19 78h1v1h-1zM21 78h1v1h-1zM18 79h1v1h-1zM21 79h1v1h-1zM18 80h1v1h-1zM21 80h1v1h-1zM18 81h5v1h-5zM21 82h1v1h-1zM21 83h1v1h-1zM26 76h1v1h-1zM25 77h1v1h-1zM27 77h1v1h-1zM24 78h1v1h-1zM28 78h1v1h-1zM24 79h1v1h-1zM28 79h1v1h-1zM24 80h1v1h-1zM28 80h1v1h-1zM24 81h1v1h-1zM28 81h1v1h-1zM25 82h1v1h-1zM27 82h1v1h-1zM26 83h1v1h-1zM32 76h1v1h-1zM31 77h1v1h-1zM33 77h1v1h-1zM30 78h1v1h-1zM34 78h1v1h-1zM30 79h1v1h-1zM34 79h1v1h-1zM30 80h1v1h-1zM34 80h1v1h-1zM30 81h1v1h-1zM34 81h1v1h-1zM31 82h1v1h-1zM33 82h1v1h-1zM32 83h1v1h-1zM38 76h1v1h-1zM37 77h1v1h-1zM39 77h1v1h-1zM36 78h1v1h-1zM40 78h1v1h-1zM36 79h1v1h-1zM40 79h1v1h-1zM36 80h1v1h-1zM40 80h1v1h-1zM36 81h1v1h-1zM40 81h1v1h-1zM37 82h1v1h-1zM39 82h1v1h-1zM38 83h1v1h-1zM50 463h1v1h-1zM49 464h1v1h-1zM51 464h1v1h-1zM48 465h1v1h-1zM52 465h1v1h-1zM48 466h1v1h-1zM52 466h1v1h-1zM48 467h1v1h-1zM52 467h1v1h-1zM48 468h1v1h-1zM52 468h1v1h-1zM49 469h1v1h-1zM51 469h1v1h-1zM50 470h1v1h-1zM150 463h1v1h-1zM149 464h2v1h-2zM148 465h1v1h-1zM150 465h1v1h-1zM150 466h1v1h-1zM150 467h1v1h-1zM150 468h1v1h-1zM150 469h1v1h-1zM148 470h5v1h-5zM156 463h1v1h-1zM155 464h1v1h-1zM157 464h1v1h-1zM154 465h1v1h-1zM158 465h1v1h-1zM154 466h1v1h-1zM158 466h1v1h-1zM154 467h1v1h-1zM158 467h1v1h-1zM154 468h1v1h-1zM158 468h1v1h-1zM155 469h1v1h-1zM157 469h1v1h-1zM156 470h1v1h-1zM162 463h1v1h-1zM161 464h1v1h-1zM163 464h1v1h-1zM160 465h1v1h-1zM164 465h1v1h-1zM160 466h1v1h-1zM164 466h1v1h-1zM160 467h1v1h-1zM164 467h1v1h-1zM160 468h1v1h-1zM164 468h1v1h-1zM161 469h1v1h-1zM163 469h1v1h-1zM162 470h1v1h-1zM255 463h3v1h-3zM254 464h1v1h-1zM258 464h1v1h-1zM258 465h1v1h-1zM257 466h1v1h-1zM256 467h1v1h-1zM255 468h1v1h-1zM254 469h1v1h-1zM254 470h5v1h-5zM262 463h1v1h-1zM261 464h1v1h-1zM263 464h1v1h-1zM260 465h1v1h-1zM264 465h1v1h-1zM260 466h1v1h-1zM264 466h1v1h-1zM260 467h1v1h-1zM264 467h1v1h-1zM260 468h1v1h-1zM264 468h1v1h-1zM261 469h1v1h-1zM263 469h1v1h-1zM262 470h1v1h-1zM268 463h1v1h-1zM267 464h1v1h-1zM269 464h1v1h-1zM266 465h1v1h-1zM270 465h1v1h-1zM266 466h1v1h-1zM270 466h1v1h-1zM266 467h1v1h-1zM270 467h1v1h-1zM266 468h1v1h-1zM270 468h1v1h-1zM267 469h1v1h-1zM269 469h1v1h-1zM268 470h1v1h-1zM361 463h3v1h-3zM360 464h1v1h-1zM364 464h1v1h-1zM364 465h1v1h-1zM362 466h2v1h-2zM364 467h1v1h-1zM364 468h1v1h-1zM360 469h1v1h-1zM364 469h1v1h-1zM361 470h3v1h-3zM368 463h1v1h-1zM367 464h1v1h-1zM369 464h1v1h-1zM366 465h1v1h-1zM370 465h1v1h-1zM366 466h1v1h-1zM370 466h1v1h-1zM366 467h1v1h-1zM370 467h1v1h-1zM366 468h1v1h-1zM370 468h1v1h-1zM367 469h1v1h-1zM369 469h1v1h-1zM368 470h1v1h-1zM374 463h1v1h-1zM373 464h1v1h-1zM375 464h1v1h-1zM372 465h1v1h-1zM376 465h1v1h-1zM372 466h1v1h-1zM376 466h1v1h-1zM372 467h1v1h-1zM376 467h1v1h-1zM372 468h1v1h-1zM376 468h1v1h-1zM373 469h1v1h-1zM375 469h1v1h-1zM374 470h1v1h-1zM469 463h1v1h-1zM468 464h2v1h-2zM467 465h1v1h-1zM469 465h1v1h-1zM466 466h1v1h-1zM469 466h1v1h-1zM466 467h1v1h-1zM469 467h1v1h-1zM466 468h5v1h-5zM469 469h1v1h-1zM469 470h1v1h-1zM474 463h1v1h-1zM473 464h1v1h-1zM475 464h1v1h-1zM472 465h1v1h-1zM476 465h1v1h-1zM472 466h1v1h-1zM476 466h1v1h-1zM472 467h1v1h-1zM476 467h1v1h-1zM472 468h1v1h-1zM476 468h1v1h-1zM473 469h1v1h-1zM475 469h1v1h-1zM474 470h1v1h-1zM480 463h1v1h-1zM479 464h1v1h-1zM481 464h1v1h-1zM478 465h1v1h-1zM482 465h1v1h-1zM478 466h1v1h-1zM482 466h1v1h-1zM478 467h1v1h-1zM482 467h1v1h-1zM478 468h1v1h-1zM482 468h1v1h-1zM479 469h1v1h-1zM481 469h1v1h-1zM480 470h1v1h-1zM573 463h5v1h-5zM573 464h1v1h-1zM573 465h1v1h-1zM573 466h4v1h-4zM577 467h1v1h-1zM577 468h1v1h-1zM573 469h1v1h-1zM577 469h1v1h-1zM574 470h3v1h-3zM581 463h1v1h-1zM580 464h1v1h-1zM582 464h1v1h-1zM579 465h1v1h-1zM583 465h1v1h-1zM579 466h1v1h-1zM583 466h1v1h-1zM579 467h1v1h-1zM583 467h1v1h-1zM579 468h1v1h-1zM583 468h1v1h-1zM580 469h1v1h-1zM582 469h1v1h-1zM581 470h1v1h-1zM587 463h1v1h-1zM586 464h1v1h-1zM588 464h1v1h-1zM585 465h1v1h-1zM589 465h1v1h-1zM585 466h1v1h-1zM589 466h1v1h-1zM585 467h1v1h-1zM589 467h1v1h-1zM585 468h1v1h-1zM589 468h1v1h-1zM586 469h1v1h-1zM588 469h1v1h-1zM587 470h1v1h-1zM310 17h1v1h-1zM312 17h2v1h-2zM310 18h2v1h-2zM314 18h1v1h-1zM310 19h1v1h-1zM314 19h1v1h-1zM310 20h1v1h-1zM314 20h1v1h-1zM310 21h2v1h-2zM314 21h1v1h-1zM310 22h1v1h-1zM312 22h2v1h-2zM310 23h1v1h-1zM310 24h1v1h-1zM317 15h3v1h-3zM316 16h1v1h-1zM320 16h1v1h-1zM320 17h1v1h-1zM319 18h1v1h-1zM318 19h1v1h-1zM317 20h1v1h-1zM316 21h1v1h-1zM316 22h5v1h-5zM323 15h3v1h-3zM322 16h1v1h-1zM326 16h1v1h-1zM322 17h1v1h-1zM326 17h1v1h-1zM322 18h1v1h-1zM326 18h1v1h-1zM323 19h4v1h-4zM326 20h1v1h-1zM325 21h1v1h-1zM322 22h3v1h-3zM331 15h1v1h-1zM330 16h2v1h-2zM329 17h1v1h-1zM331 17h1v1h-1zM328 18h1v1h-1zM331 18h1v1h-1zM328 19h1v1h-1zM331 19h1v1h-1zM328 20h5v1h-5zM331 21h1v1h-1zM331 22h1v1h-1zM336 15h1v1h-1zM335 16h1v1h-1zM337 16h1v1h-1zM334 17h1v1h-1zM338 17h1v1h-1zM334 18h1v1h-1zM338 18h1v1h-1zM334 19h1v1h-1zM338 19h1v1h-1zM334 20h1v1h-1zM338 20h1v1h-1zM335 21h1v1h-1zM337 21h1v1h-1zM336 22h1v1h-1zM340 23h5v1h-5zM348 15h1v1h-1zM347 16h2v1h-2zM346 17h1v1h-1zM348 17h1v1h-1zM348 18h1v1h-1zM348 19h1v1h-1zM348 20h1v1h-1zM348 21h1v1h-1zM346 22h5v1h-5zM352 15h5v1h-5zM352 16h1v1h-1zM352 17h1v1h-1zM352 18h4v1h-4zM356 19h1v1h-1zM356 20h1v1h-1zM352 21h1v1h-1zM356 21h1v1h-1zM353 22h3v1h-3zM540 45h2v1h-2zM541 46h1v1h-1zM541 47h1v1h-1zM541 48h1v1h-1zM541 49h1v1h-1zM541 50h1v1h-1zM541 51h1v1h-1zM540 52h3v1h-3zM547 45h1v1h-1zM546 47h2v1h-2zM547 48h1v1h-1zM547 49h1v1h-1zM547 50h1v1h-1zM547 51h1v1h-1zM546 52h3v1h-3zM551 47h1v1h-1zM553 47h2v1h-2zM551 48h2v1h-2zM555 48h1v1h-1zM551 49h1v1h-1zM555 49h1v1h-1zM551 50h1v1h-1zM555 50h1v1h-1zM551 51h1v1h-1zM555 51h1v1h-1zM551 52h1v1h-1zM555 52h1v1h-1zM558 47h3v1h-3zM557 48h1v1h-1zM561 48h1v1h-1zM557 49h5v1h-5zM557 50h1v1h-1zM557 51h1v1h-1zM558 52h3v1h-3zM571 45h1v1h-1zM570 46h2v1h-2zM569 47h1v1h-1zM571 47h1v1h-1zM571 48h1v1h-1zM571 49h1v1h-1zM571 50h1v1h-1zM571 51h1v1h-1zM569 52h5v1h-5zM540 58h2v1h-2zM541 59h1v1h-1zM541 60h1v1h-1zM541 61h1v1h-1zM541 62h1v1h-1zM541 63h1v1h-1zM541 64h1v1h-1zM540 65h3v1h-3zM547 58h1v1h-1zM546 60h2v1h-2zM547 61h1v1h-1zM547 62h1v1h-1zM547 63h1v1h-1zM547 64h1v1h-1zM546 65h3v1h-3zM551 60h1v1h-1zM553 60h2v1h-2zM551 61h2v1h-2zM555 61h1v1h-1zM551 62h1v1h-1zM555 62h1v1h-1zM551 63h1v1h-1zM555 63h1v1h-1zM551 64h1v1h-1zM555 64h1v1h-1zM551 65h1v1h-1zM555 65h1v1h-1zM558 60h3v1h-3zM557 61h1v1h-1zM561 61h1v1h-1zM557 62h5v1h-5zM557 63h1v1h-1zM557 64h1v1h-1zM558 65h3v1h-3zM570 58h3v1h-3zM569 59h1v1h-1zM573 59h1v1h-1zM573 60h1v1h-1zM572 61h1v1h-1zM571 62h1v1h-1zM570 63h1v1h-1zM569 64h1v1h-1zM569 65h5v1h-5zM540 71h2v1h-2zM541 72h1v1h-1zM541 73h1v1h-1zM541 74h1v1h-1zM541 75h1v1h-1zM541 76h1v1h-1zM541 77h1v1h-1zM540 78h3v1h-3zM547 71h1v1h-1zM546 73h2v1h-2zM547 74h1v1h-1zM547 75h1v1h-1zM547 76h1v1h-1zM547 77h1v1h-1zM546 78h3v1h-3zM551 73h1v1h-1zM553 73h2v1h-2zM551 74h2v1h-2zM555 74h1v1h-1zM551 75h1v1h-1zM555 75h1v1h-1zM551 76h1v1h-1zM555 76h1v1h-1zM551 77h1v1h-1zM555 77h1v1h-1zM551 78h1v1h-1zM555 78h1v1h-1zM558 73h3v1h-3zM557 74h1v1h-1zM561 74h1v1h-1zM557 75h5v1h-5zM557 76h1v1h-1zM557 77h1v1h-1zM558 78h3v1h-3zM570 71h3v1h-3zM569 72h1v1h-1zM573 72h1v1h-1zM573 73h1v1h-1zM571 74h2v1h-2zM573 75h1v1h-1zM573 76h1v1h-1zM569 77h1v1h-1zM573 77h1v1h-1zM570 78h3v1h-3zM540 84h2v1h-2zM541 85h1v1h-1zM541 86h1v1h-1zM541 87h1v1h-1zM541 88h1v1h-1zM541 89h1v1h-1zM541 90h1v1h-1zM540 91h3v1h-3zM547 84h1v1h-1zM546 86h2v1h-2zM547 87h1v1h-1zM547 88h1v1h-1zM547 89h1v1h-1zM547 90h1v1h-1zM546 91h3v1h-3zM551 86h1v1h-1zM553 86h2v1h-2zM551 87h2v1h-2zM555 87h1v1h-1zM551 88h1v1h-1zM555 88h1v1h-1zM551 89h1v1h-1zM555 89h1v1h-1zM551 90h1v1h-1zM555 90h1v1h-1zM551 91h1v1h-1zM555 91h1v1h-1zM558 86h3v1h-3zM557 87h1v1h-1zM561 87h1v1h-1zM557 88h5v1h-5zM557 89h1v1h-1zM557 90h1v1h-1zM558 91h3v1h-3zM572 84h1v1h-1zM571 85h2v1h-2zM570 86h1v1h-1zM572 86h1v1h-1zM569 87h1v1h-1zM572 87h1v1h-1zM569 88h1v1h-1zM572 88h1v1h-1zM569 89h5v1h-5zM572 90h1v1h-1zM572 91h1v1h-1z"/>
</svg></body></html>
